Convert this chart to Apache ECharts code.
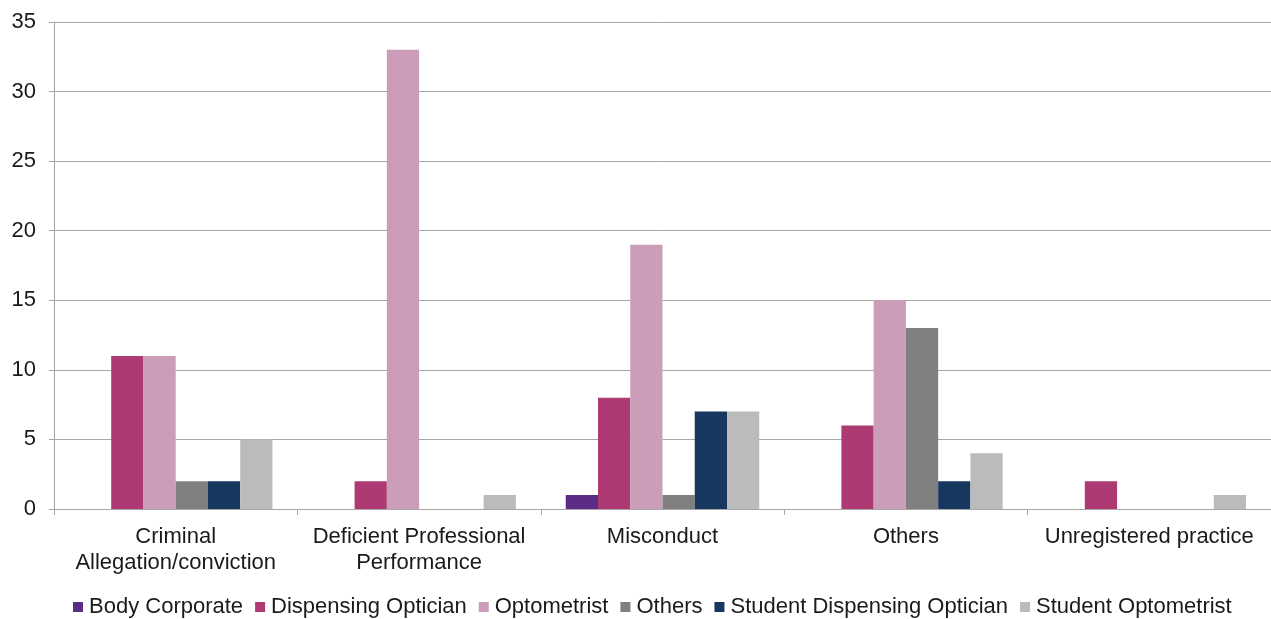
<!DOCTYPE html>
<html>
<head>
<meta charset="utf-8">
<script src="https://cdn.jsdelivr.net/npm/echarts@6/dist/echarts.min.js"></script>
<style>
  html, body { margin: 0; padding: 0; background: #fff; }
  #chart { width: 1271px; height: 619px; }
</style>
</head>
<body>
<div id="chart"></div>
<script>
// Concern categories (x axis)
const categories = [
  'Criminal\nAllegation/conviction',
  'Deficient Professional\nPerformance',
  'Misconduct',
  'Others',
  'Unregistered practice'
];

// Case counts per registrant type
const bodyCorporate = [0, 0, 1, 0, 0];
const dispensingOptician = [11, 2, 8, 6, 2];
const optometrist = [11, 33, 19, 15, 0];
const others = [2, 0, 1, 13, 0];
const studentDispensingOptician = [2, 0, 7, 2, 0];
const studentOptometrist = [5, 1, 7, 4, 1];

const seriesNames = ['Body Corporate', 'Dispensing Optician', 'Optometrist', 'Others', 'Student Dispensing Optician', 'Student Optometrist'];
const seriesData = [bodyCorporate, dispensingOptician, optometrist, others, studentDispensingOptician, studentOptometrist];
const seriesColors = ['#5C2D87', '#AE3A74', '#CC9DB8', '#808080', '#17375E', '#BBBBBB'];

const font = 'Liberation Sans, Arial, sans-serif';
const textColor = '#1a1a1a';

const chart = echarts.init(document.getElementById('chart'));
chart.setOption({
  animation: false,
  textStyle: { fontFamily: font },
  grid: { left: 54, right: 0, top: 22, bottom: 110, containLabel: false },
  legend: {
    top: 596,
    left: 73,
    padding: 0,
    itemWidth: 10,
    itemHeight: 10,
    itemGap: 12,
    icon: 'rect',
    textStyle: { fontFamily: font, fontSize: 22, color: textColor, padding: [0, 0, 0, 1] },
    data: seriesNames
  },
  xAxis: {
    type: 'category',
    data: categories,
    axisLine: { show: true, lineStyle: { color: '#A6A6A6', width: 1 } },
    axisTick: { show: true, length: 6, alignWithLabel: false, lineStyle: { color: '#A6A6A6' } },
    axisLabel: { fontFamily: font, fontSize: 22, color: textColor, margin: 15, lineHeight: 26, interval: 0 }
  },
  yAxis: {
    type: 'value',
    min: 0,
    max: 35,
    interval: 5,
    axisLine: { show: true, lineStyle: { color: '#A6A6A6', width: 1 } },
    axisTick: { show: true, length: 5, lineStyle: { color: '#A6A6A6' } },
    splitLine: { show: true, lineStyle: { color: '#A6A6A6', width: 1 } },
    axisLabel: { fontFamily: font, fontSize: 22, color: textColor, margin: 18 }
  },
  series: seriesNames.map((name, i) => ({
    name: name,
    type: 'bar',
    data: seriesData[i],
    barGap: '0%',
    barCategoryGap: '20.5%',
    itemStyle: { color: seriesColors[i] }
  }))
});
</script>
</body>
</html>
